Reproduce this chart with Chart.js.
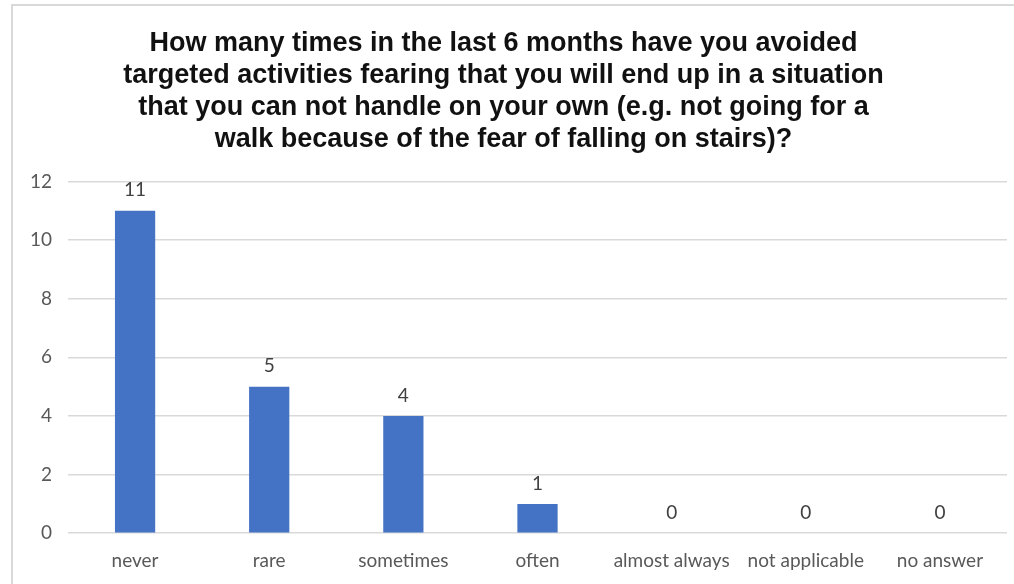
<!DOCTYPE html>
<html>
<head>
<meta charset="utf-8">
<script src="https://cdn.jsdelivr.net/npm/chart.js@4"></script>
<style>
  html, body { margin: 0; padding: 0; background: #fff; }
  #frame {
    position: absolute; left: 11px; top: 4px; width: 1010px; height: 590px;
    border-left: 2px solid #d9d9d9; border-top: 2px solid #d9d9d9;
  }
  #wrap { position: absolute; left: 0; top: 0; width: 1014px; height: 584px; }
</style>
</head>
<body>
<div id="frame"></div>
<div id="wrap"><canvas id="chart" width="1014" height="584"></canvas></div>
<script>
// Données du graphique
const titleLines = [
    'How many times in the last 6 months have you avoided',
    'targeted activities fearing that you will end up in a situation',
    'that you can not handle on your own (e.g. not going for a',
    'walk because of the fear of falling on stairs)?'
];
const categories = ['never', 'rare', 'sometimes', 'often', 'almost always', 'not applicable', 'no answer'];
const counts = [11, 5, 4, 1, 0, 0, 0];
const yTicks = [0, 2, 4, 6, 8, 10, 12];

// Plugin simple pour les étiquettes au-dessus des barres
const valueLabels = {
    id: 'valueLabels',
    afterDatasetsDraw(chart) {
        const ctx = chart.ctx;
        const meta = chart.getDatasetMeta(0);
        ctx.save();
        ctx.font = '19px Lato, "Open Sans", sans-serif';
        ctx.fillStyle = '#404040';
        ctx.textAlign = 'center';
        ctx.textBaseline = 'bottom';
        meta.data.forEach(function(bar, i) {
            ctx.fillText(String(counts[i]), bar.x, bar.y - 11);
        });
        ctx.restore();
    }
};

const ctx = document.getElementById('chart');
new Chart(ctx, {
    type: 'bar',
    data: {
        labels: categories,
        datasets: [{
            data: counts,
            backgroundColor: '#4472C4',
            borderWidth: 0,
            categoryPercentage: 1,
            barPercentage: 0.3
        }]
    },
    options: {
        responsive: false,
        animation: false,
        layout: { padding: { left: 0, right: 7, top: 27, bottom: 4 } },
        plugins: {
            legend: { display: false },
            tooltip: { enabled: false },
            title: {
                display: true,
                text: titleLines,
                color: '#111',
                font: { family: '"Liberation Sans", Arial, sans-serif', size: 27, weight: 'bold', lineHeight: 1.19 },
                padding: { top: 0, bottom: 26 }
            }
        },
        scales: {
            x: {
                grid: { display: false },
                border: { display: false },
                ticks: {
                    color: '#595959',
                    font: { family: 'Lato, "Open Sans", sans-serif', size: 19 },
                    maxRotation: 0,
                    autoSkip: false,
                    padding: 8
                }
            },
            y: {
                min: 0,
                max: 12,
                afterBuildTicks: function(scale) {
                    scale.ticks = yTicks.map(v => ({ value: v }));
                },
                afterFit: function(scale) { scale.width = 68; },
                grid: { color: '#d9d9d9', lineWidth: 1.5, drawTicks: false },
                border: { display: false },
                ticks: {
                    color: '#595959',
                    font: { family: 'Lato, "Open Sans", sans-serif', size: 19 },
                    padding: 16
                }
            }
        }
    },
    plugins: [valueLabels]
});
</script>
</body>
</html>
